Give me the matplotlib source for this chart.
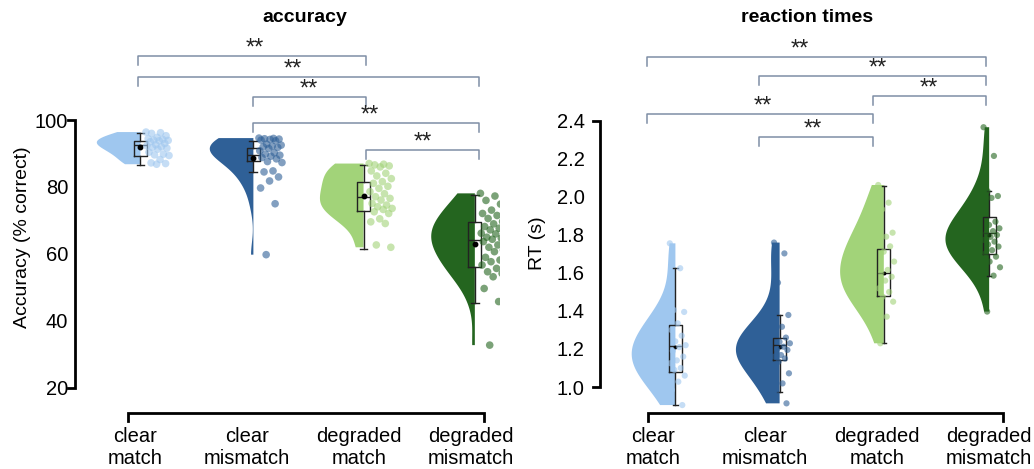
import numpy as np
import matplotlib
matplotlib.use('Agg')
import matplotlib.pyplot as plt

plt.rcParams['font.family'] = ['Liberation Sans', 'DejaVu Sans']

# CONDIZIONI E COLORI
condizioni = ['clear\nmatch', 'clear\nmismatch', 'degraded\nmatch', 'degraded\nmismatch']
colori = ['#9fc7ef', '#2f6097', '#a2d379', '#24651f']

# ACCURATEZZA (% corrette), UN PUNTO PER PARTECIPANTE
acc_clear_match = [96.4, 96.2, 96.0, 95.3, 94.8, 94.4, 94.2, 94.0, 93.9, 93.8, 93.5, 93.0, 92.6,
                   92.3, 92.0, 91.8, 91.6, 91.3, 90.4, 89.8, 89.6, 89.4, 88.2, 87.2, 87.0, 86.8]
acc_clear_mismatch = [94.6, 94.5, 94.4, 94.3, 94.2, 94.0, 93.8, 92.8, 92.5, 92.2, 92.0, 91.8, 91.5,
                      90.8, 90.2, 89.8, 89.5, 89.2, 88.8, 88.4, 87.6, 87.3, 84.8, 84.5, 83.0, 81.8,
                      79.7, 75.0, 59.8]
acc_degraded_match = [87.0, 86.8, 86.6, 86.3, 86.0, 84.8, 84.1, 83.3, 82.5, 81.6, 81.1, 80.2, 79.6,
                      78.6, 78.0, 77.1, 76.6, 76.1, 75.1, 74.6, 74.1, 73.6, 73.3, 72.6, 72.1, 70.5,
                      69.6, 69.1, 62.7, 62.0]
acc_degraded_mismatch = [78.1, 77.3, 76.0, 74.9, 73.1, 72.1, 71.5, 70.6, 69.7, 69.0, 68.2, 67.7,
                         67.2, 66.2, 66.0, 65.0, 64.7, 64.4, 63.7, 62.7, 62.0, 61.2, 60.7, 59.0,
                         58.2, 57.7, 56.7, 55.7, 54.7, 54.2, 53.2, 49.7, 45.8, 32.8]

# TEMPI DI REAZIONE (s)
rt_clear_match = [1.756, 1.625, 1.405, 1.395, 1.335, 1.30, 1.27, 1.24, 1.22, 1.21, 1.19, 1.16,
                  1.14, 1.125, 1.10, 1.09, 1.06, 1.028, 0.984, 0.905]
rt_clear_mismatch = [1.76, 1.703, 1.549, 1.379, 1.317, 1.291, 1.26, 1.238, 1.23, 1.212, 1.20, 1.195,
                     1.168, 1.16, 1.15, 1.133, 1.072, 1.019, 0.967, 0.914]
rt_degraded_match = [2.063, 1.97, 1.935, 1.812, 1.791, 1.76, 1.74, 1.712, 1.66, 1.616, 1.60, 1.58,
                     1.56, 1.519, 1.50, 1.475, 1.449, 1.37, 1.23]
rt_degraded_mismatch = [2.367, 2.216, 2.031, 2.005, 1.995, 1.931, 1.87, 1.853, 1.835, 1.82, 1.81,
                        1.80, 1.79, 1.774, 1.765, 1.75, 1.739, 1.72, 1.704, 1.686, 1.66, 1.63,
                        1.586, 1.397]

# STATISTICHE DEI BOXPLOT
acc_q1 = [89.3, 87.9, 72.9, 56.0]
acc_med = [92.5, 89.6, 76.9, 64.2]
acc_q3 = [93.8, 91.5, 81.4, 69.7]
acc_wlo = [86.6, 84.4, 61.4, 45.5]
acc_whi = [96.2, 93.8, 86.6, 77.6]
acc_mean = [92.0, 88.6, 77.2, 63.0]

rt_q1 = [1.081, 1.142, 1.481, 1.700]
rt_med = [1.216, 1.221, 1.598, 1.809]
rt_q3 = [1.326, 1.256, 1.726, 1.897]
rt_wlo = [0.905, 0.975, 1.230, 1.586]
rt_whi = [1.625, 1.379, 2.058, 2.031]
rt_mean = [1.21, 1.21, 1.60, 1.80]

# CONFRONTI SIGNIFICATIVI
acc_coppie = [(0, 2), (0, 3), (1, 2), (1, 3), (2, 3)]
rt_coppie = [(0, 3), (1, 3), (2, 3), (0, 2), (1, 2)]
stelle = '**'


def pannello(ax, dati, q1, med, q3, wlo, whi, media, pos, jit, size, mean_ms, capw, bw):
    for i in range(4):
        v = ax.violinplot([dati[i]], positions=[pos[i]], widths=0.78, showextrema=False,
                          side='low', bw_method=bw[i])
        for b in v['bodies']:
            b.set_facecolor(colori[i])
            b.set_edgecolor('none')
            b.set_alpha(1)
            b.set_zorder(1)
    stats = []
    for i in range(4):
        stats.append(dict(med=med[i], q1=q1[i], q3=q3[i], whislo=wlo[i], whishi=whi[i],
                          mean=media[i], fliers=[]))
    ax.bxp(stats, positions=pos, widths=0.115, showmeans=True, showfliers=False,
           manage_ticks=False, capwidths=capw,
           boxprops=dict(color='#222222', lw=1),
           whiskerprops=dict(color='#222222', lw=1),
           capprops=dict(color='#222222', lw=1),
           medianprops=dict(color='#222222', lw=1),
           meanprops=dict(marker='o', markerfacecolor='black', markeredgecolor='black',
                          markersize=mean_ms), zorder=3)
    # PUNTI SPARSI A DESTRA DEL BOX
    for i in range(4):
        n = len(dati[i])
        frac = (np.arange(n) * 0.618034) % 1
        x = pos[i] + jit[0] + (jit[1] - jit[0]) * frac
        ax.scatter(x, dati[i], s=size, color=colori[i], alpha=0.6, edgecolors='none', zorder=4)


def parentesi(ax, coppie, ancore, livelli, caduta, stelle_x):
    for k, (i, j) in enumerate(coppie):
        y = livelli[k]
        ax.plot([ancore[i], ancore[i], ancore[j], ancore[j]], [y - caduta, y, y, y - caduta],
                color='#7f8ea6', lw=1.1, clip_on=False)
        ax.text(stelle_x[k], y + caduta * 0.15, stelle, ha='center', va='baseline',
                fontsize=17, color='#222222')


def assi(ax, ylo, yhi, ticks, xa, xb, pad_y):
    for s in ax.spines.values():
        s.set_visible(False)
    ax.set_xticks(range(4), condizioni)
    ax.set_yticks(ticks)
    ax.tick_params(axis='x', length=0, pad=12, labelsize=14.5)
    ax.tick_params(axis='y', length=0, pad=pad_y, labelsize=14.5)
    ax.plot([-0.0165, 0, 0, -0.0165], [ylo, ylo, yhi, yhi], transform=ax.get_yaxis_transform(),
            color='black', lw=2, clip_on=False, solid_joinstyle='miter')
    ax.plot([xa, xa, xb, xb], [-0.038, -0.0103, -0.0103, -0.038], transform=ax.get_xaxis_transform(),
            color='black', lw=2, clip_on=False, solid_joinstyle='miter')


fig = plt.figure(figsize=(10.34, 4.69), dpi=100)
ax1 = fig.add_axes([75 / 1034, 59 / 469, 425 / 1034, 290 / 469])
ax2 = fig.add_axes([600 / 1034, 59 / 469, 425 / 1034, 290 / 469])

# ACCURATEZZA
acc = [acc_clear_match, acc_clear_mismatch, acc_degraded_match, acc_degraded_mismatch]
pannello(ax1, acc, acc_q1, acc_med, acc_q3, acc_wlo, acc_whi, acc_mean,
         pos=[0.045, 1.055, 2.04, 3.035], jit=(0.05, 0.26), size=30, mean_ms=3.2, capw=0.07,
         bw=[0.6, 0.5, 0.55, 0.55])
ax1.set_xlim(-0.54, 3.26)
ax1.set_ylim(13.43, 100)
assi(ax1, 20, 100, [20, 40, 60, 80, 100], -0.0625, 3.116, 5)
ax1.set_ylabel('Accuracy (% correct)', fontsize=14)
ax1.yaxis.set_label_coords(-0.104, 0.597)
parentesi(ax1, acc_coppie, [0.027, 1.054, 2.065, 3.07], [119.1, 112.8, 106.9, 99.1, 91.0], 2.7,
          [1.07, 1.41, 1.55, 2.10, 2.57])

# TEMPI DI REAZIONE
rt = [rt_clear_match, rt_clear_mismatch, rt_degraded_match, rt_degraded_mismatch]
pannello(ax2, rt, rt_q1, rt_med, rt_q3, rt_wlo, rt_whi, rt_mean,
         pos=[0.2, 1.13, 2.06, 3.0], jit=(-0.05, 0.1), size=20, mean_ms=1.8, capw=0.04,
         bw=[0.6, 0.55, 0.6, 0.6])
ax2.set_xlim(-0.473, 3.32)
ax2.set_ylim(0.879, 2.405)
assi(ax2, 1.0, 2.4, [1.0, 1.2, 1.4, 1.6, 1.8, 2.0, 2.2, 2.4], -0.045, 3.125, 11)
ax2.set_yticklabels([f'{t:.1f}' for t in [1.0, 1.2, 1.4, 1.6, 1.8, 2.0, 2.2, 2.4]])
ax2.set_ylabel('RT (s)', fontsize=14)
ax2.yaxis.set_label_coords(-0.126, 0.576)
parentesi(ax2, rt_coppie, [-0.054, 0.95, 1.96, 2.973], [2.737, 2.637, 2.532, 2.437, 2.316], 0.047,
          [1.31, 2.01, 2.46, 0.98, 1.43])

fig.text(305 / 1034, 1 - 22 / 469, 'accuracy', ha='center', va='baseline', fontsize=14,
         fontweight='bold')
fig.text(807 / 1034, 1 - 22 / 469, 'reaction times', ha='center', va='baseline', fontsize=14,
         fontweight='bold')

plt.savefig('out.png', dpi=100)
